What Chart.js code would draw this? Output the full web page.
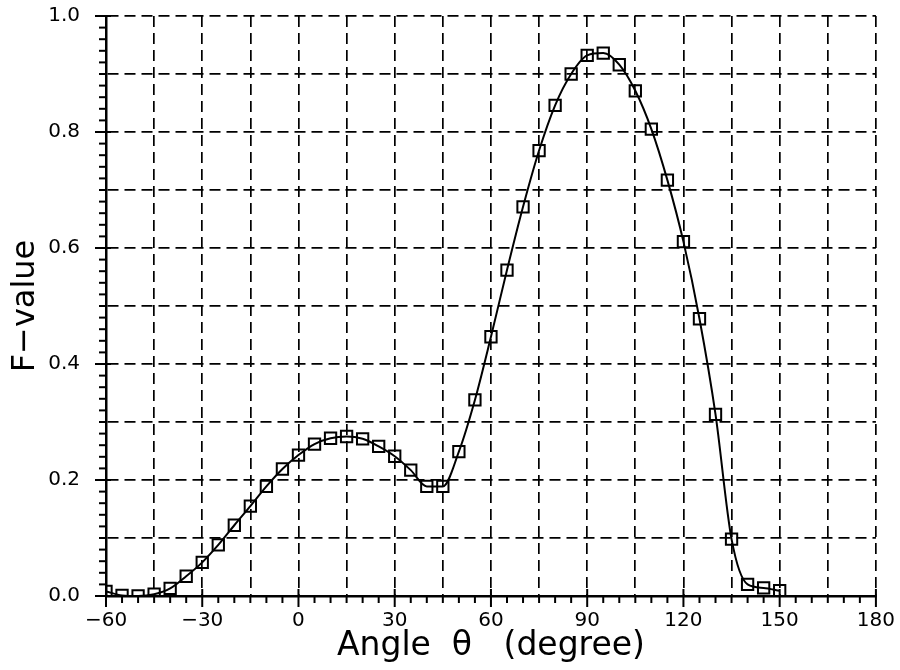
<!DOCTYPE html>
<html>
<head>
<meta charset="utf-8">
<script src="https://cdn.jsdelivr.net/npm/chart.js@4/dist/chart.umd.min.js"></script>
<style>
  html, body { margin: 0; padding: 0; background: #ffffff; }
  #wrap { width: 900px; height: 670px; position: relative; }
</style>
</head>
<body>
<div id="wrap"><canvas id="c" width="900" height="670"></canvas></div>
<script>
// ---- data ----
const angles = [-60, -55, -50, -45, -40, -35, -30, -25, -20, -15, -10, -5, 0, 5, 10, 15, 20, 25, 30, 35, 40, 45,
                50, 55, 60, 65, 70, 75, 80, 85, 90, 95, 100, 105, 110, 115, 120, 125, 130, 135, 140, 145, 150];
const fValues = [0.008, 0.001, 0.000, 0.003, 0.013, 0.034, 0.058, 0.088, 0.122, 0.155, 0.189, 0.219, 0.243, 0.262,
                 0.272, 0.275, 0.271, 0.258, 0.241, 0.217, 0.189, 0.189, 0.249, 0.338, 0.447, 0.562, 0.671, 0.768,
                 0.846, 0.900, 0.932, 0.936, 0.916, 0.871, 0.805, 0.717, 0.611, 0.478, 0.313, 0.098, 0.020, 0.014, 0.009];
const xTickValues = [-60, -30, 0, 30, 60, 90, 120, 150, 180];
const xTickLabels = ['\u221260', '\u221230', '0', '30', '60', '90', '120', '150', '180'];
const yTickValues = [0.0, 0.2, 0.4, 0.6, 0.8, 1.0];
const yTickLabels = ['0.0', '0.2', '0.4', '0.6', '0.8', '1.0'];
const xTitle = 'Angle  \u03B8   (degree)';
const yTitle = 'F\u2212value';

const points = angles.map((a, i) => ({ x: a, y: fValues[i] }));
const FONT = "'DejaVu Sans', sans-serif";

function near(v, list, eps) { return list.findIndex(t => Math.abs(t - v) < eps); }

// tick marks (minor and major) drawn at the scales' own tick positions
const tickMarks = {
  id: 'tickMarks',
  afterDraw(chart) {
    const ctx = chart.ctx, xs = chart.scales.x, ys = chart.scales.y;
    const ca = chart.chartArea;
    ctx.save();
    ctx.strokeStyle = '#000';
    ctx.lineWidth = 2;
    xs.ticks.forEach(t => {
      const px = xs.getPixelForValue(t.value);
      const major = near(t.value, xTickValues, 0.01) >= 0;
      ctx.beginPath();
      ctx.moveTo(px, major ? ca.bottom - 7 : ca.bottom);
      ctx.lineTo(px, ca.bottom + (major ? 11 : 7));
      ctx.stroke();
    });
    ys.ticks.forEach(t => {
      const py = ys.getPixelForValue(t.value);
      const major = near(t.value, yTickValues, 0.001) >= 0;
      ctx.beginPath();
      ctx.moveTo(ca.left - (major ? 11 : 7), py);
      ctx.lineTo(major ? ca.left + 5 : ca.left, py);
      ctx.stroke();
    });
    ctx.restore();
  }
};

new Chart(document.getElementById('c'), {
  type: 'line',
  data: {
    datasets: [{
      data: points,
      borderColor: '#000',
      borderWidth: 2,
      cubicInterpolationMode: 'monotone',
      pointStyle: 'rect',
      pointRadius: 8,
      pointBorderWidth: 2,
      pointBorderColor: '#000',
      pointBackgroundColor: 'rgba(0,0,0,0)',
      fill: false
    }]
  },
  options: {
    responsive: false,
    animation: false,
    devicePixelRatio: 1,
    layout: { padding: { left: 8, right: 22, top: 0, bottom: 5 } },
    plugins: { legend: { display: false }, tooltip: { enabled: false } },
    scales: {
      x: {
        type: 'linear',
        min: -60, max: 180,
        afterFit: (s) => { s.height = 69; },
        ticks: {
          stepSize: 5,
          autoSkip: false,
          maxRotation: 0,
          padding: 5,
          color: '#000',
          font: { family: FONT, size: 20, lineHeight: 1.2 },
          callback: (v) => { const i = near(v, xTickValues, 0.01); return i >= 0 ? xTickLabels[i] : ''; }
        },
        grid: {
          color: (ctx) => (ctx.tick && Math.abs(ctx.tick.value % 15) < 0.01 && ctx.tick.value > -60) ? '#000' : 'rgba(0,0,0,0)',
          lineWidth: 1.7,
          tickColor: 'rgba(0,0,0,0)',
          tickLength: 8
        },
        border: { display: true, color: '#000', width: 2.5, dash: [11, 6] },
        title: {
          display: true, text: xTitle, color: '#000',
          font: { family: FONT, size: 33, lineHeight: 1.1 },
          padding: { top: 0, bottom: 0 }
        }
      },
      y: {
        min: 0, max: 1.0,
        afterFit: (s) => { s.width = 98; },
        ticks: {
          stepSize: 0.02,
          autoSkip: false,
          padding: 4,
          color: '#000',
          font: { family: FONT, size: 20 },
          callback: (v) => { const i = near(v, yTickValues, 0.001); return i >= 0 ? yTickLabels[i] : ''; }
        },
        grid: {
          color: (ctx) => { if (!ctx.tick) return 'rgba(0,0,0,0)'; const k = Math.round(ctx.tick.value * 100); return (k % 10 === 0 && k > 0) ? '#000' : 'rgba(0,0,0,0)'; },
          lineWidth: 1.7,
          tickColor: 'rgba(0,0,0,0)',
          tickLength: 22
        },
        border: { display: true, color: '#000', width: 2.5, dash: [11, 6] },
        title: {
          display: true, text: yTitle, color: '#000',
          font: { family: FONT, size: 32, lineHeight: 1.1 },
          padding: { top: 0, bottom: 3 }
        }
      }
    }
  },
  plugins: [tickMarks]
});
</script>
</body>
</html>
